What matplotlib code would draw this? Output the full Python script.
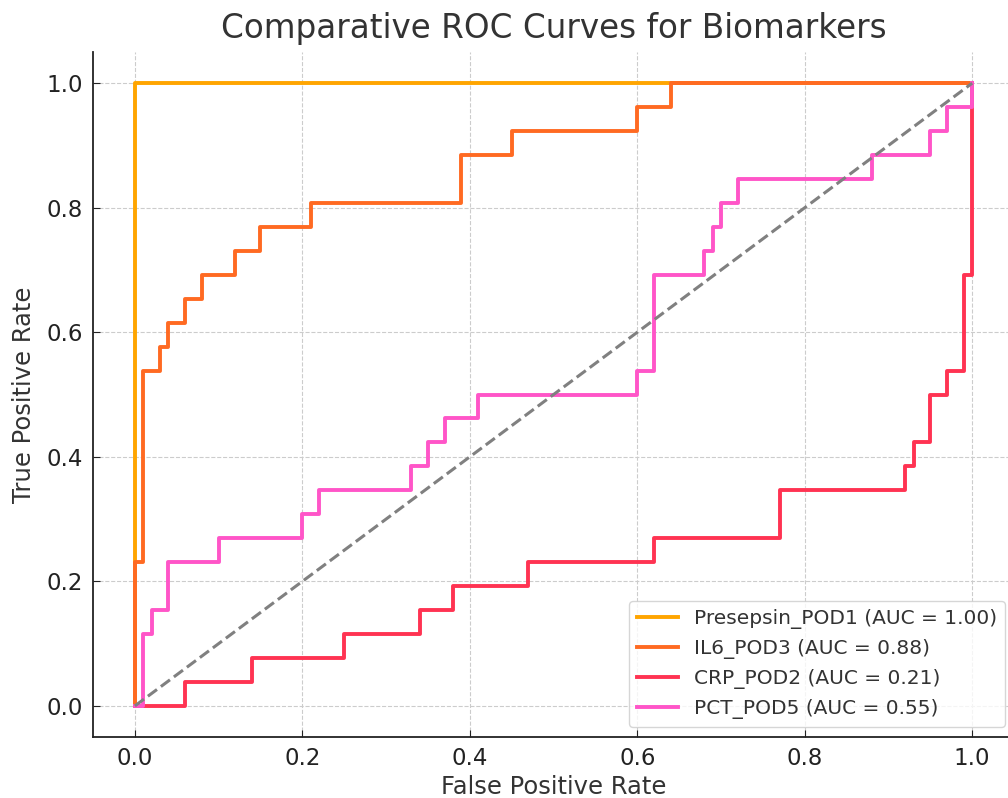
import numpy as np
import matplotlib
matplotlib.use("Agg")
import matplotlib.pyplot as plt

# ROC points (tpr steps are k/26)
names = ["Presepsin_POD1", "IL6_POD3", "CRP_POD2", "PCT_POD5"]
auc = [1.00, 0.88, 0.21, 0.55]
colors = ["#FFA500", "#FF6A22", "#FF3352", "#FF55C8"]

fpr_pre = [0.0, 0.0, 1.0]
tpr_pre = [0.0, 1.0, 1.0]

fpr_il6 = [0.0, 0.0, 0.01, 0.01, 0.03, 0.03, 0.04, 0.04, 0.06, 0.06, 0.08, 0.08,
           0.12, 0.12, 0.15, 0.15, 0.21, 0.21, 0.39, 0.39, 0.45, 0.45, 0.60, 0.60,
           0.64, 0.64, 1.0]
tpr_il6 = [0, 6, 6, 14, 14, 15, 15, 16, 16, 17, 17, 18,
           18, 19, 19, 20, 20, 21, 21, 23, 23, 24, 24, 25,
           25, 26, 26]

fpr_crp = [0.0, 0.06, 0.06, 0.14, 0.14, 0.25, 0.25, 0.34, 0.34, 0.38, 0.38,
           0.47, 0.47, 0.62, 0.62, 0.77, 0.77, 0.92, 0.92, 0.93, 0.93, 0.95,
           0.95, 0.97, 0.97, 0.99, 0.99, 1.0, 1.0]
tpr_crp = [0, 0, 1, 1, 2, 2, 3, 3, 4, 4, 5,
           5, 6, 6, 7, 7, 9, 9, 10, 10, 11, 11,
           13, 13, 14, 14, 18, 18, 26]

fpr_pct = [0.0, 0.01, 0.01, 0.02, 0.02, 0.04, 0.04, 0.10, 0.10, 0.20, 0.20,
           0.22, 0.22, 0.33, 0.33, 0.35, 0.35, 0.37, 0.37, 0.41, 0.41, 0.60,
           0.60, 0.62, 0.62, 0.68, 0.68, 0.69, 0.69, 0.70, 0.70, 0.72, 0.72,
           0.88, 0.88, 0.95, 0.95, 0.97, 0.97, 1.0, 1.0]
tpr_pct = [0, 0, 3, 3, 4, 4, 6, 6, 7, 7, 8,
           8, 9, 9, 10, 10, 11, 11, 12, 12, 13, 13,
           14, 14, 18, 18, 19, 19, 20, 20, 21, 21, 22,
           22, 23, 23, 24, 24, 25, 25, 26]

fprs = [fpr_pre, fpr_il6, fpr_crp, fpr_pct]
tprs = [tpr_pre, np.array(tpr_il6) / 26, np.array(tpr_crp) / 26, np.array(tpr_pct) / 26]

fig = plt.figure(figsize=(10.08, 7.98), dpi=100)
ax = fig.add_axes([0.0923, 0.0764, 0.9137, 0.8584])

for f, t, n, a, c in zip(fprs, tprs, names, auc, colors):
    ax.plot(f, t, color=c, lw=2.8, label=f"{n} (AUC = {a:.2f})")
ax.plot([0, 1], [0, 1], color="gray", lw=2.2, ls="--")

ax.set_xlim(-0.05, 1.05)
ax.set_ylim(-0.05, 1.05)
ax.set_xticks(np.arange(0, 1.01, 0.2))
ax.set_yticks(np.arange(0, 1.01, 0.2))
ax.grid(True, ls="--", color="#cccccc", lw=0.8)
ax.tick_params(direction="in", length=5, labelsize=16.5, colors="#222222", pad=7)
for s in ["top", "right"]:
    ax.spines[s].set_visible(False)
for s in ["left", "bottom"]:
    ax.spines[s].set_linewidth(1.3)
    ax.spines[s].set_color("#222222")

ax.set_xlabel("False Positive Rate", fontsize=17.5, color="#333333", labelpad=4)
ax.set_ylabel("True Positive Rate", fontsize=17.5, color="#333333", labelpad=8)
ax.set_title("Comparative ROC Curves for Biomarkers", fontsize=23.5, color="#333333", pad=10)
ax.legend(loc="lower right", fontsize=14.5, bbox_to_anchor=(1.001, 0.0), labelcolor="#333333")

fig.savefig("out.png", dpi=100)
